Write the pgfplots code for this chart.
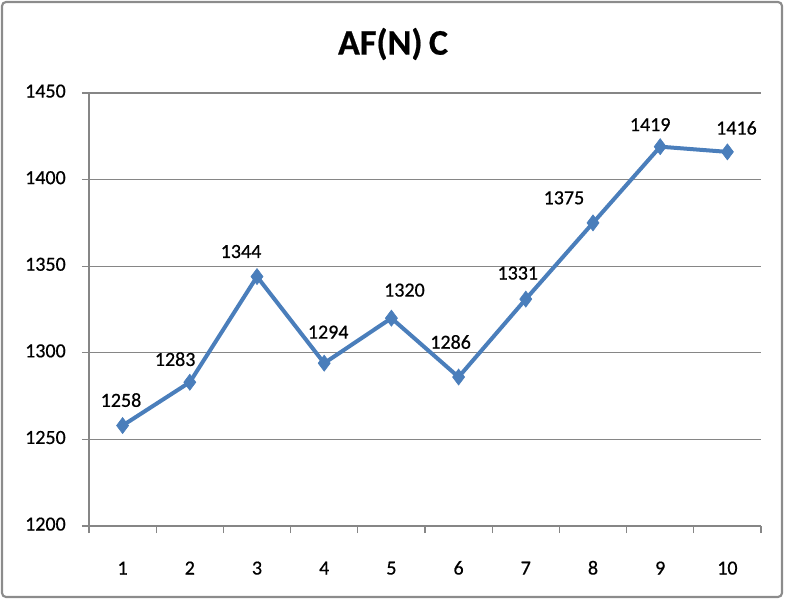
\documentclass[border=0pt]{standalone}
\usepackage{pgfplots}
\pgfplotsset{compat=1.18}
\usepackage{pgfplotstable}
\usepackage{fontspec}
\setmainfont{Carlito}[FakeBold=0.6]
\newfontfamily\labelfont{Carlito}[FakeBold=0.6]
\definecolor{lineblue}{HTML}{4A7EBB}
\definecolor{gridgray}{HTML}{868686}
\definecolor{bordergray}{HTML}{8C8C8C}
\pgfplotstableread{
x y dx dy
1 1258 -1.2 19.1
2 1283 -11 17.3
3 1344 -12 18.8
4 1294 3 23.3
5 1320 9.8 21
6 1286 -6 26.3
7 1331 -6 19.5
8 1375 -21.8 18.8
9 1419 -7.5 16.5
10 1416 6.8 18
}\datatable
\begin{document}
\begin{tikzpicture}[x=0.75pt,y=0.75pt]
\useasboundingbox (0,0) rectangle (785,600);
\draw[bordergray, line width=1.6pt, rounded corners=3pt] (2,3) rectangle (782,598);
\node[font=\fontsize{27}{30}\selectfont\bfseries] at (393,556) {AF(N)\kern-0.05em\ C};
\begin{axis}[
  at={(66.75pt,55.5pt)}, anchor=south west,
  scale only axis, width=504pt, height=324.75pt,
  xmin=0.5, xmax=10.5, ymin=1200, ymax=1450,
  axis x line=bottom, axis y line=left,
  axis line style={gridgray, line width=0.9pt, -},
  xtick={1,...,10}, major x tick style={draw=none},
  minor xtick={0.5,1.5,...,10.5},
  minor x tick style={gridgray, line width=0.9pt},
  ytick={1200,1250,...,1450},
  y tick style={gridgray, line width=0.9pt},
  tick align=outside, major tick length=5.25pt, minor tick length=5.25pt,
  ymajorgrids, grid style={gridgray, line width=0.9pt},
  /pgf/number format/assume math mode=true,
  /pgf/number format/1000 sep={},
  tick label style={font=\fontsize{15}{17}\selectfont\labelfont, inner sep=0pt},
  xticklabel style={anchor=center, yshift=-27.75pt},
  yticklabel style={anchor=east, xshift=-12pt},
  typeset ticklabels with strut=false,
  clip=false,
]
\addplot[lineblue, line width=3pt, mark=diamond*, mark size=6pt,
  mark options={fill=lineblue, draw=lineblue, line width=0.5pt},
  nodes near coords,
  point meta=explicit symbolic,
  visualization depends on={\thisrow{dx} \as \dx},
  visualization depends on={\thisrow{dy} \as \dy},
  every node near coord/.append style={black, anchor=center, inner sep=0pt,
    font=\fontsize{15}{17}\selectfont\labelfont, xshift=\dx pt, yshift=\dy pt},
] table[x=x, y=y, meta=y] {\datatable};
\end{axis}
\end{tikzpicture}
\end{document}
